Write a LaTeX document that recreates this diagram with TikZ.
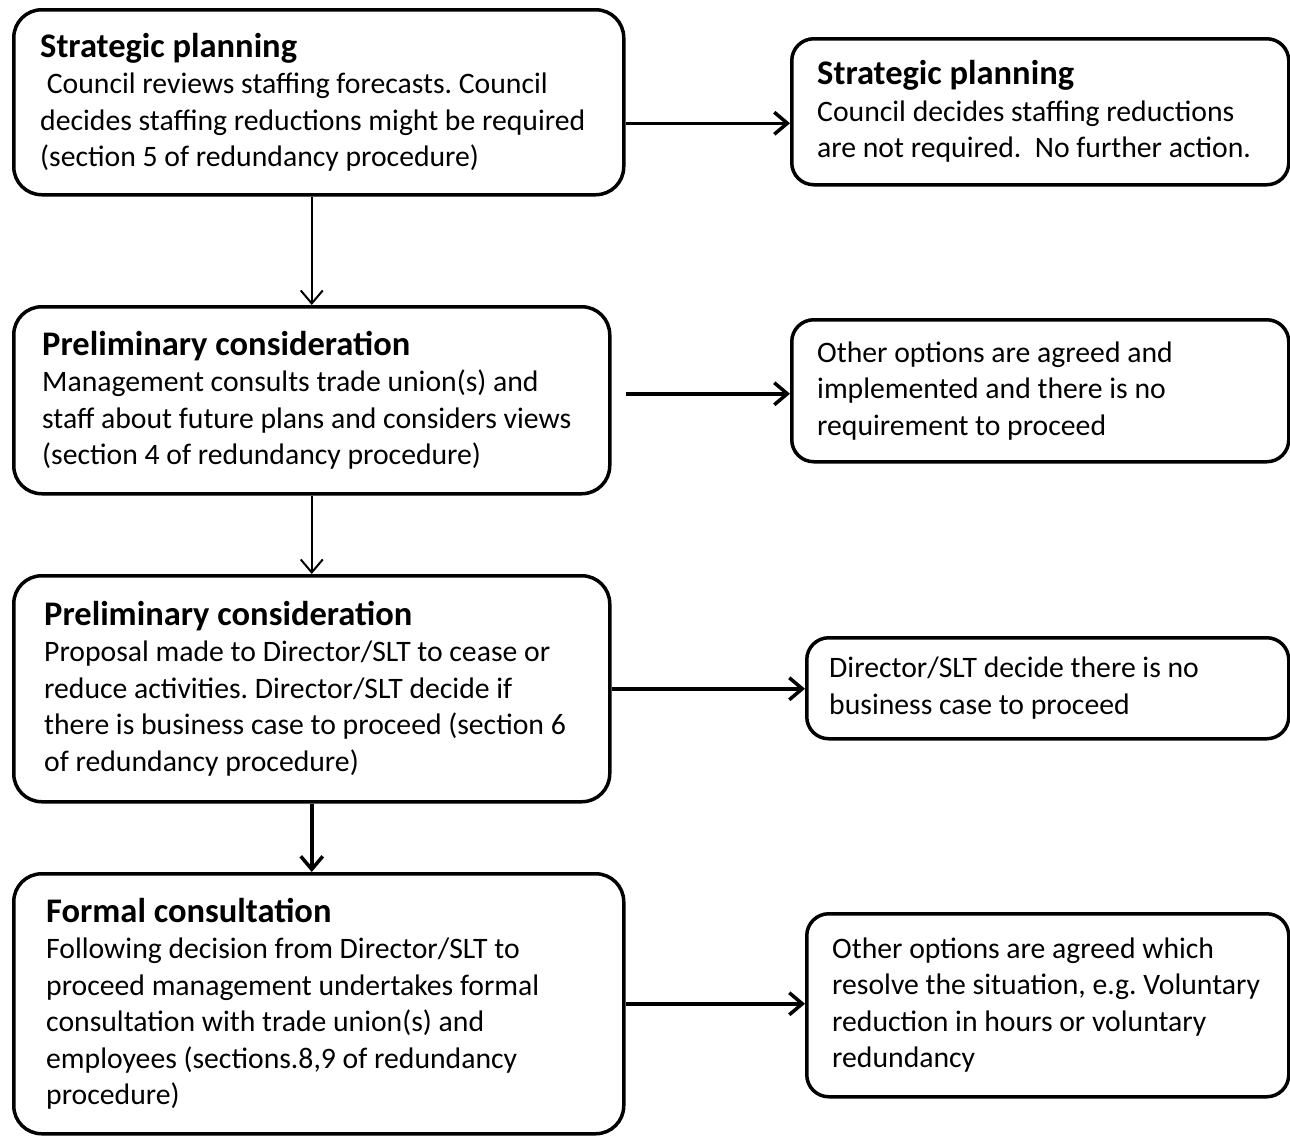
\documentclass[tikz,border=0pt]{standalone}
\usepackage{fontspec}
\setmainfont{Carlito}
\frenchspacing
\usetikzlibrary{arrows.meta}

\tikzset{
  box/.style={draw, line width=3.5pt, rounded corners=28pt, inner sep=0pt, anchor=north west},
  sidebox/.style={box, rounded corners=22pt},
  txt/.style={align=left, inner sep=0pt, anchor=west, font=\fontsize{29.7}{36.5}\selectfont},
  flow/.style={-{Straight Barb[length=13pt,width=22pt]}, line width=3.5pt},
  thinflow/.style={-{Straight Barb[length=13pt,width=22pt]}, line width=2pt}
}
\newcommand{\boxhead}[1]{{\bfseries\fontsize{34.5}{36.5}\selectfont #1}}

\begin{document}
\begin{tikzpicture}[x=1pt, y=-1pt]
    \useasboundingbox (0,0) rectangle (1290,1135);

    % left column
    \node[box, minimum width=610pt, minimum height=185pt] (plan) at (12,8) {};
    \node[txt] (plan-t) at ([xshift=28pt]plan.west)
        {\boxhead{Strategic planning}\\
         \ Council reviews staffing forecasts. Council\\
         decides staffing reductions might be required\\
         (section 5 of redundancy procedure)};

    \node[box, minimum width=596pt, minimum height=187pt] (prelim) at (12,305) {};
    \node[txt] (prelim-t) at ([xshift=30pt]prelim.west)
        {\boxhead{Preliminary consideration}\\
         Management consults trade union(s) and\\
         staff about future plans and considers views\\
         (section 4 of redundancy procedure)};

    \node[box, minimum width=596pt, minimum height=226pt] (decide) at (12,574) {};
    \node[txt] (decide-t) at ([xshift=32pt]decide.west)
        {\boxhead{Preliminary consideration}\\
         Proposal made to Director/SLT to cease or\\
         reduce activities. Director/SLT decide if\\
         there is business case to proceed (section 6\\
         of redundancy procedure)};

    \node[box, minimum width=610pt, minimum height=260pt] (formal) at (12,872) {};
    \node[txt] (formal-t) at ([xshift=34pt]formal.west)
        {\boxhead{Formal consultation}\\
         Following decision from Director/SLT to\\
         proceed management undertakes formal\\
         consultation with trade union(s) and\\
         employees (sections.8,9 of redundancy\\
         procedure)};

    % right column
    \node[sidebox, minimum width=497pt, minimum height=146pt] (planno) at (790,37) {};
    \node[txt] (planno-t) at ([xshift=27pt]planno.west)
        {\boxhead{Strategic planning}\\
         Council decides staffing reductions\\
         are not required.\ \ No further action.};

    \node[sidebox, minimum width=497pt, minimum height=142pt] (other) at (790,318) {};
    \node[txt] (other-t) at ([xshift=27pt]other.west)
        {Other options are agreed and\\
         implemented and there is no\\
         requirement to proceed};

    \node[sidebox, minimum width=482pt, minimum height=101pt] (nocase) at (805,636) {};
    \node[txt] (nocase-t) at ([xshift=24pt]nocase.west)
        {Director/SLT decide there is no\\
         business case to proceed};

    \node[sidebox, minimum width=482pt, minimum height=183pt] (resolve) at (805,912) {};
    \node[txt] (resolve-t) at ([xshift=27pt]resolve.west)
        {Other options are agreed which\\
         resolve the situation, e.g. Voluntary\\
         reduction in hours or voluntary\\
         redundancy};

    % connectors
    \draw[thinflow] (prelim.north |- plan.south) -- (prelim.north);
    \draw[thinflow] (decide.north |- prelim.south) -- (decide.north);
    \draw[flow] (decide.south) -- (decide.south |- formal.north);

    \draw[flow] ([yshift=-21pt]plan.east) -- ([yshift=-21pt]plan.east -| planno.west);
    \draw[flow] ([xshift=14pt,yshift=6.5pt]prelim.east) -- ([yshift=6.5pt]prelim.east -| other.west);
    \draw[flow] (decide.east) -- (decide.east -| nocase.west);
    \draw[flow] (formal.east) -- (formal.east -| resolve.west);
\end{tikzpicture}
\end{document}
